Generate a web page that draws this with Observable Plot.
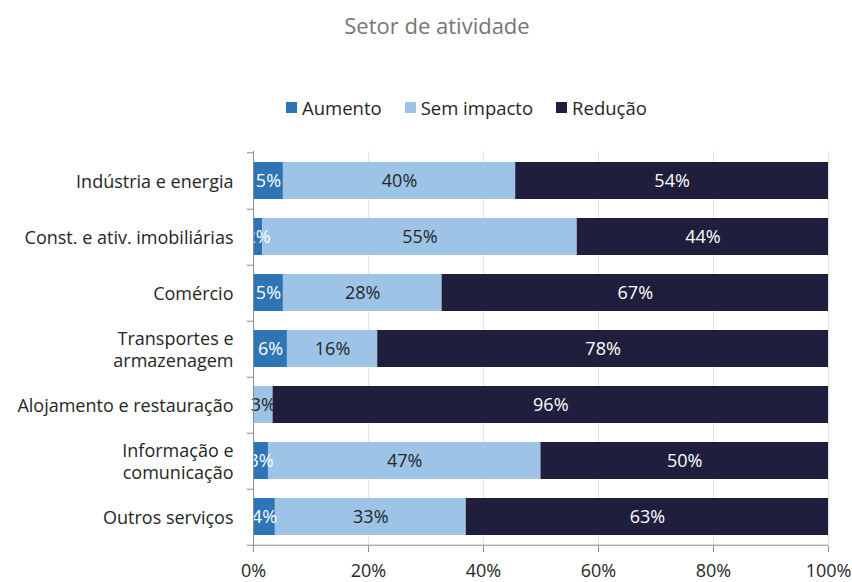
<!DOCTYPE html>
<html><head><meta charset="utf-8">
<script src="https://cdn.jsdelivr.net/npm/d3@7"></script>
<script src="https://cdn.jsdelivr.net/npm/@observablehq/plot@0.6"></script>
<style>
body{margin:0;width:852px;height:582px;overflow:hidden;background:#fff;font-family:"Open Sans",sans-serif;position:relative;}
#title{height:50px;line-height:50px;text-align:center;padding-left:22px;font-size:22px;color:#767676;}
#legend{position:absolute;top:92px;left:286px;display:flex;align-items:center;height:30px;font-size:18.5px;color:#262626;white-space:nowrap;}
#legend .sw{display:inline-block;width:11px;height:11px;margin-right:5px;}
#legend .it{display:flex;align-items:center;margin-right:23px;}
#chart{position:absolute;top:122px;left:0;}
</style>
</head><body>
<div id="title">Setor de atividade</div>
<div id="legend"></div>
<div id="chart"></div>
<script>
const sectors = ["Indústria e energia","Const. e ativ. imobiliárias","Comércio","Transportes e\narmazenagem","Alojamento e restauração","Informação e\ncomunicação","Outros serviços"];
const series = ["Aumento","Sem impacto","Redução"];
const aumento    = [5.2, 1.6, 5.2, 5.9, 0,    2.6, 3.8];
const semImpacto = [40.4,54.7,27.6,15.7,3.4,  47.4,33.2];
const reducao    = [54.4,43.7,67.2,78.4,96.4, 50.0,63.0];
const xTicks = [0,0.2,0.4,0.6,0.8,1];
const colors = ["#2E75B6","#9DC3E6","#1F1F3D"];

const seriesValues = [aumento, semImpacto, reducao];
const rows = [];
sectors.forEach((s,i)=>series.forEach((k,j)=>rows.push({sector:s, series:k, value:seriesValues[j][i]})));

// legend
const leg = document.getElementById("legend");
series.forEach((k,j)=>{
  const it=document.createElement("span");it.className="it";
  it.innerHTML=`<span class="sw" style="background:${colors[j]}"></span>${k}`;
  leg.appendChild(it);
});

const H = 460, mT = 29, mB = 36;
const step = (H-mT-mB)/sectors.length;
const stk = (extra) => Plot.stackX({offset:"normalize", x:"value", y:"sector", z:"series", ...extra});
const lbl = (d)=> d.value < 0.5 ? null : Math.round(d.value)+"%";

const chart = Plot.plot({
  width: 852, height: H,
  marginTop: mT, marginBottom: mB, marginLeft: 253, marginRight: 24,
  style:{fontFamily:'"Open Sans",sans-serif', background:"white"},
  x:{domain:[0,1]},
  y:{domain:sectors, paddingInner:0.34, paddingOuter:0.17},
  color:{domain:series, range:colors},
  marks:[
    Plot.ruleX(xTicks.slice(1), {stroke:"#e3e3e3"}),
    Plot.barX(rows, stk({fill:"series"})),
    Plot.text(rows, stk({text: d=> d.series==="Sem impacto" ? null : lbl(d), fill:"white", fontSize:18})),
    Plot.text(rows, stk({text: d=> d.series==="Sem impacto" ? lbl(d) : null, fill:"#262626", fontSize:18})),
    Plot.ruleX([0], {stroke:"#8c8c8c"}),
    Plot.ruleY([sectors[sectors.length-1]], {x1:0, x2:1, dy:step/2, stroke:"#8c8c8c"}),
    Plot.ruleY(sectors, {y:d=>d, x1:0, x2:0, insetLeft:-6, dy:step/2, stroke:"#8c8c8c"}),
    Plot.ruleY([sectors[0]], {y:d=>d, x1:0, x2:0, insetLeft:-6, dy:-step/2, stroke:"#8c8c8c"}),
    Plot.axisX(xTicks, {label:null, tickFormat:d3.format(".0%"), tickSize:6, tickPadding:12, stroke:"#8c8c8c", fill:"#262626", fontSize:18}),
    Plot.axisY({label:null, tickSize:0, tickPadding:20, fill:"#262626", fontSize:18, lineHeight:1.25})
  ]
});
document.getElementById("chart").appendChild(chart);
</script>
</body></html>
